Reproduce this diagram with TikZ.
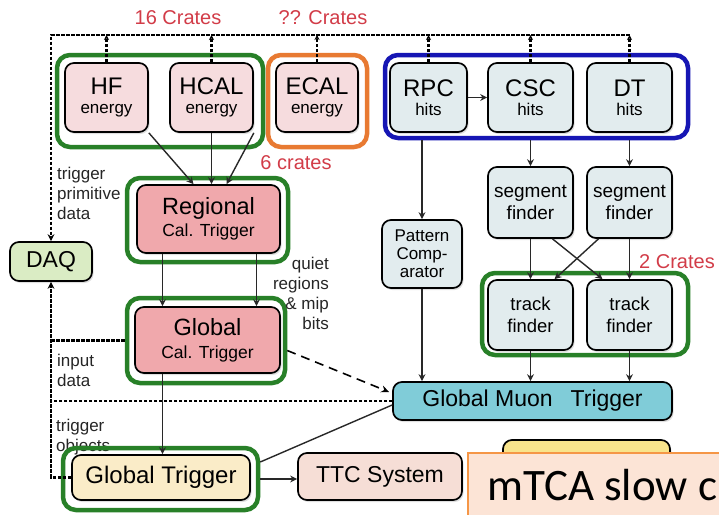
\documentclass[tikz,border=0pt]{standalone}
\usepackage{fontspec}
\setmainfont{Liberation Sans}
\newfontfamily\calfont{Carlito}
\usetikzlibrary{arrows.meta,shadows,calc}

\definecolor{grpgreen}{RGB}{40,128,40}
\definecolor{grporange}{RGB}{232,122,50}
\definecolor{grpblue}{RGB}{22,22,180}
\definecolor{calpink}{RGB}{246,220,222}
\definecolor{trigpink}{RGB}{240,168,172}
\definecolor{muongray}{RGB}{226,236,238}
\definecolor{daqgreen}{RGB}{218,236,196}
\definecolor{gmtcyan}{RGB}{128,204,216}
\definecolor{gtyellow}{RGB}{250,236,200}
\definecolor{ttcpink}{RGB}{246,222,214}
\definecolor{ttsyellow}{RGB}{248,228,140}
\definecolor{cratered}{RGB}{210,60,72}
\definecolor{notefill}{RGB}{252,228,214}
\definecolor{noteedge}{RGB}{245,150,70}
\definecolor{wire}{RGB}{40,40,40}

\tikzset{
  box/.style={draw=black, line width=1.7pt, rounded corners=9pt, inner sep=0pt,
    align=center, drop shadow={shadow xshift=1.5pt, shadow yshift=-2pt, opacity=0.25}},
  grp/.style={draw=#1, line width=4.5pt, rounded corners=13pt, inner sep=0pt},
  wireline/.style={draw=wire, line width=1.4pt},
  arr/.style={wireline, -{Stealth[length=7pt,width=7pt]}},
  dotline/.style={draw=black, line width=2.3pt, dash pattern=on 3.5pt off 1.5pt},
  dotarr/.style={dotline, -{Stealth[length=7pt,width=7pt]}},
  uparr/.style={dotline, -{Stealth[length=5pt,width=5pt]}},
  longdash/.style={draw=black, line width=1.6pt, dash pattern=on 9pt off 6pt,
    -{Stealth[length=8pt,width=7pt]}},
  cratelbl/.style={text=cratered, font=\fontsize{20}{22}\selectfont, inner sep=0pt},
  smalllbl/.style={text=black!85, font=\fontsize{17}{20}\selectfont, inner sep=0pt},
}

\begin{document}
\begin{tikzpicture}[x=1pt,y=-1pt]
\useasboundingbox (0,0) rectangle (719,514);
\fill[white] (0,0) rectangle (719,514);
\clip (0,0) rectangle (719,514);

% label partly hidden behind the Global Trigger crate frame
\node[smalllbl, align=left, anchor=north west] (tob) at (56,419) {trigger\\objects};

% crate groupings
\node[grp=grpgreen, minimum width=206pt, minimum height=92pt] (calgrp) at (160,101) {};
\node[grp=grporange, minimum width=99pt, minimum height=92pt] (ecalgrp) at (317.5,101) {};
\node[grp=grpblue, minimum width=303pt, minimum height=83pt] (blue) at (536.5,96.5) {};
\node[grp=grpgreen, minimum width=161pt, minimum height=84pt] (Reggrp) at (207.5,220) {};
\node[grp=grpgreen, minimum width=158pt, minimum height=85pt] (GCgrp) at (206,340.5) {};
\node[grp=grpgreen, minimum width=206pt, minimum height=82pt] (TFgrp) at (585,314) {};
\node[grp=grpgreen, minimum width=195pt, minimum height=62pt] (GTgrp) at (160.5,479) {};

% detector inputs
\node[box, fill=calpink, minimum width=83pt, minimum height=69pt, font=\fontsize{17}{19}\selectfont]
  (HF) at (106.5,97.5) {{\fontsize{24}{19}\selectfont HF}\\energy};
\node[box, fill=calpink, minimum width=83pt, minimum height=69pt, font=\fontsize{17}{19}\selectfont]
  (HCAL) at (211.5,97.5) {{\fontsize{24}{19}\selectfont HCAL}\\energy};
\node[box, fill=calpink, minimum width=82pt, minimum height=69pt, font=\fontsize{17}{19}\selectfont]
  (ECAL) at (317,97.5) {{\fontsize{24}{19}\selectfont ECAL}\\energy};
\node[box, fill=muongray, minimum width=77pt, minimum height=69pt, font=\fontsize{17}{19}\selectfont]
  (RPC) at (428.5,97.5) {{\fontsize{24}{19}\selectfont RPC}\\hits};
\node[box, fill=muongray, minimum width=85pt, minimum height=69pt, font=\fontsize{17}{19}\selectfont]
  (CSC) at (530.5,97.5) {{\fontsize{24}{19}\selectfont CSC}\\hits};
\node[box, fill=muongray, minimum width=85pt, minimum height=69pt, font=\fontsize{17}{19}\selectfont]
  (DT) at (629.5,97.5) {{\fontsize{24}{19}\selectfont DT}\\hits};

% calorimeter trigger chain
\node[box, fill=trigpink, minimum width=143pt, minimum height=68pt, font=\fontsize{17.5}{22}\selectfont]
  (Reg) at (208.5,219) {{\fontsize{23.5}{22}\selectfont Regional}\\Cal. Trigger};
\node[box, fill=trigpink, minimum width=145pt, minimum height=66pt, font=\fontsize{17.5}{23}\selectfont]
  (GC) at (207.5,340) {{\fontsize{23.5}{23}\selectfont Global}\\Cal. Trigger};
\node[box, fill=daqgreen, minimum width=82pt, minimum height=39pt, font=\fontsize{23}{24}\selectfont]
  (DAQ) at (51,261.5) {DAQ};

% muon trigger chain
\node[box, fill=muongray, minimum width=80pt, minimum height=68pt, font=\fontsize{17}{18}\selectfont]
  (PC) at (422,254) {Pattern\\Comp-\\arator};
\node[box, fill=muongray, minimum width=85pt, minimum height=71pt, font=\fontsize{19}{22}\selectfont]
  (Seg1) at (530.5,202.5) {segment\\finder};
\node[box, fill=muongray, minimum width=85pt, minimum height=71pt, font=\fontsize{19}{22}\selectfont]
  (Seg2) at (629.5,202.5) {segment\\finder};
\node[box, fill=muongray, minimum width=85pt, minimum height=70pt, font=\fontsize{18.5}{22}\selectfont]
  (Track1) at (530.5,315) {track\\finder};
\node[box, fill=muongray, minimum width=85pt, minimum height=70pt, font=\fontsize{18.5}{22}\selectfont]
  (Track2) at (629.5,315) {track\\finder};
\node[box, fill=gmtcyan, minimum width=279pt, minimum height=38pt, font=\fontsize{23}{24}\selectfont]
  (GMT) at (532.5,401) {Global Muon\hspace{0.5em} Trigger};

% global trigger and outputs
\node[box, fill=gtyellow, minimum width=178pt, minimum height=45pt, font=\fontsize{24}{25}\selectfont]
  (GT) at (161,477.5) {Global Trigger};
\node[box, fill=ttcpink, minimum width=164pt, minimum height=47pt, font=\fontsize{23}{24}\selectfont]
  (TTC) at (380,476.5) {TTC System};
\node[box, fill=ttsyellow, minimum width=167pt, minimum height=50pt] (TTS) at (586.5,465) {};

% readout paths
\coordinate (topy) at (0,35);
\draw[dotarr] (DT.north |- topy) -| (DAQ.north);
\foreach \n in {HF,HCAL,ECAL,RPC,CSC,DT}
  \draw[uparr] (\n.north) -- (\n.north |- topy);
\draw[dotarr] (GT.west) -| (DAQ.south);
\draw[dotline] (GCgrp.west) -- (GCgrp.west -| DAQ.south);
\draw[dotline] (GMT.west) -- (GMT.west -| DAQ.south);

% calorimeter data flow
\draw[arr] (HF.south east) -- ([xshift=-15pt]Reg.north);
\draw[arr] (HCAL.south) -- (HCAL.south |- Reg.north);
\draw[arr] (HCAL.south east) -- ([xshift=18pt]Reg.north);
\draw[arr] ([xshift=-46pt]Reg.south) -- ([xshift=-46pt]Reg.south |- GC.north);
\draw[arr] ([xshift=48pt]Reg.south) -- ([xshift=48pt]Reg.south |- GC.north);
\draw[arr] ([xshift=-45pt]GC.south) -- ([xshift=-45pt]GC.south |- GT.north);
\draw[longdash] ([yshift=-10pt]GCgrp.east) -- ([xshift=-3pt,yshift=9pt]GMT.west);
\draw[wireline] ([yshift=17pt]GTgrp.east) -- ([yshift=-4pt]GMT.west);
\draw[arr] (GTgrp.east) -- (GTgrp.east -| TTC.west);

% muon data flow
\draw[arr] (RPC.east) -- (CSC.west);
\draw[arr] (PC.north |- blue.south) -- (PC.north);
\draw[arr] (PC.south) -- (PC.south |- GMT.north);
\draw[arr] (Seg1.north |- blue.south) -- (Seg1.north);
\draw[arr] (Seg2.north |- blue.south) -- (Seg2.north);
\draw[arr] (Seg1.south) -- (Track1.north);
\draw[arr] (Seg2.south) -- (Track2.north);
\draw[arr] ([xshift=22pt]Seg1.south) -- ([xshift=-27pt]Track2.north);
\draw[arr] ([xshift=-31pt]Seg2.south) -- ([xshift=24pt]Track1.north);
\draw[arr] (Track1.south) -- (Track1.south |- GMT.north);
\draw[arr] (Track2.south) -- (Track2.south |- GMT.north);

% labels
\node[cratelbl] (c16) at (178,18) {16 Crates};
\node[cratelbl] (cqq) at (323,18) {?? Crates};
\node[cratelbl] (c6) at (296,163) {6 crates};
\node[cratelbl] (c2) at (677,262) {2 Crates};
\node[smalllbl, align=left, anchor=west] (tpd) at (57,193) {trigger\\primitive\\data};
\node[smalllbl, align=right, anchor=east] (qr) at (329,293) {quiet\\regions\\\& mip\\bits};
\node[smalllbl, align=left, anchor=west] (ind) at (57,370) {input\\data};

% slow-control note
\node[draw=noteedge, fill=notefill, line width=1.5pt, minimum width=280pt, minimum height=90pt,
  anchor=north west, inner sep=0pt] (note) at (467,452) {};
\node[anchor=base west, inner sep=0pt, font=\calfont\fontsize{45}{45}\selectfont] (notetext)
  at (487,500) {mTCA slow c};
\end{tikzpicture}
\end{document}
